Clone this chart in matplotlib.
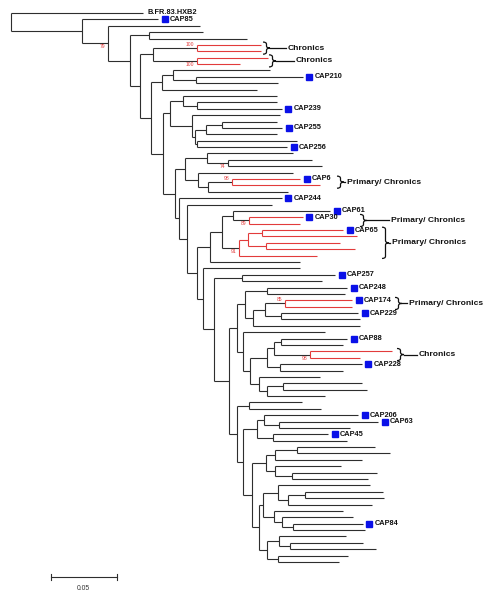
import matplotlib
matplotlib.use('Agg')
import matplotlib.pyplot as plt
from matplotlib.path import Path
from matplotlib.patches import PathPatch

plt.rcParams['font.family'] = ['Liberation Sans', 'DejaVu Sans']

# tree data (newick pieces, branch lengths in substitutions/site)
a5 = "(((t69:0.0591,t70:0.0705):0.0167,t71:0.0659):0.0068,(t72:0.0500,(t73:0.0644,t74:0.0576):0.0129):0.0068)"
b = ("(((t75:0.0697,((t76:0.0591,t77:0.0598):0.0129,t78:0.0636):0.0076):0.0114,"
     "(t79:0.0523,(t80:0.0538,(CAP84:0.0530,t82:0.0545):0.0083):0.0061):0.0083):0.0030,"
     "((t83:0.0508,(t84:0.0553,t85:0.0652):0.0083):0.0091,(t86:0.0530,t87:0.0462):0.0083):0.0061)")
d = "((CAP206:0.0712,(CAP63:0.0750,t66:0.0538):0.0114):0.0053,(CAP45:0.0417,t68:0.0561):0.0121)"
q3 = ("((CAP248:0.0606,t45:0.0591):0.0167,(((CAP174:0.0508,t47:0.0508)85:0.0152,"
      "(CAP229:0.0583,t49:0.0598):0.0121):0.0091,t50:0.0811):0.0061)")
ff = ("((((CAP88:0.0500,t53:0.0470):0.0053,(t54:0.0621,t55:0.0379)98:0.0273):0.0053,"
      "(CAP228:0.0621,t57:0.0477):0.0098):0.0129,"
      "(t58:0.0462,((t59:0.0598,t60:0.0636):0.0121,t61:0.0439):0.0061):0.0068)")
y_cl = ("(((CAP61:0.0735,(CAP30:0.0409,t34:0.0386)89:0.0121):0.0083,"
        "(((CAP65:0.0614,t36:0.0720):0.0106,(t37:0.0561,t38:0.0674):0.0136):0.0068,t39:0.0591)91:0.0129):0.0091,"
        "t40:0.0682)")
p = ("((t23:0.0652,(t24:0.0636,t25:0.0712)74:0.0159):0.0167,"
     "(t26:0.0720,((CAP6:0.0515,t28:0.0667)98:0.0182,t29:0.0606):0.0076):0.0098)")
f = ("((t14:0.0712,(t15:0.0606,CAP239:0.0644):0.0106):0.0098,"
     "(t17:0.0667,(((t18:0.0417,CAP255:0.0455):0.0121,t20:0.0538):0.0083,"
     "(t21:0.0758,CAP256:0.0682):0.0015):0.0023):0.0167)")
dd = "((t10:0.0735,(CAP210:0.0811,t12:0.0621):0.0174):0.0083,t13:0.0720)"
chron = "((t06:0.0485,t07:0.0485)100:0.0333,(t08:0.0538,t09:0.0326)100:0.0333)"

a6 = f"({a5}:0.0106,{b}:0.0053)"
c = f"({d}:0.0106,{a6}:0.0068)"
h = f"((t62:0.0402,t63:0.0545):0.0091,{c}:0.0045)"
cc = f"({q3}:0.0061,(t51:0.0621,{ff}:0.0053):0.0045)"
aa = f"((CAP257:0.0705,t43:0.0606):0.0212,({cc}:0.0061,{h}:0.0061):0.0114)"
x_cl = f"({y_cl}:0.0098,(t41:0.0735,{aa}:0.0083):0.0045)"
w = f"(CAP244:0.0780,(t31:0.0644,{x_cl}:0.0076):0.0061)"
e = f"({f}:0.0053,({p}:0.0076,{w}:0.0030):0.0091)"
n5 = f"({chron}:0.0098,({dd}:0.0083,{e}:0.0091):0.0083)"
n2 = f"(t03:0.0697,((t04:0.0409,t05:0.0742):0.0144,{n5}:0.0076):0.0167)79"
tree_str = f"(B.FR.83.HXB2:0.1000,(CAP85:0.0576,{n2}:0.0197):0.0538);"

# highlighted (red) clades, each one bracketed with a label
red_groups = [['t06', 't07'], ['t08', 't09'], ['CAP6', 't28'], ['CAP30', 't34'],
              ['CAP65', 't36', 't37', 't38', 't39'], ['CAP174', 't47'], ['t54', 't55']]
group_labels = ['Chronics', 'Chronics', 'Primary/ Chronics', 'Primary/ Chronics',
                'Primary/ Chronics', 'Primary/ Chronics', 'Chronics']

scale_len = 0.05

# layout (pixels) for braces: brace left, text left
brace_px = [(263, 288), (269, 296), (337, 347), (360, 391), (382, 392), (395, 409), (397, 419)]
boot_side = [1, -1, 1, 1, -1, 1, 1, -1, 1]

DARK = '#2e2e2e'
RED = '#e23b3b'
BLUE = '#0a10e8'
LW = 0.8
PX = 1 / 1320.0     # data units per pixel in x
PY = 1 / 6.384      # leaf rows per pixel in y


def parse(s):
    pos = 0

    def node():
        nonlocal pos
        kids = []
        if s[pos] == '(':
            pos += 1
            kids.append(node())
            while s[pos] == ',':
                pos += 1
                kids.append(node())
            pos += 1
        start = pos
        while s[pos] not in ':,();':
            pos += 1
        name = s[start:pos]
        length = 0.0
        if s[pos] == ':':
            pos += 1
            start = pos
            while s[pos] not in ',();':
                pos += 1
            length = float(s[start:pos])
        return {'name': name, 'len': length, 'kids': kids}
    return node()


leaves = []


def layout(n, x0):
    n['x'] = x0 + n['len']
    if n['kids']:
        for k in n['kids']:
            layout(k, n['x'])
        n['y'] = (n['kids'][0]['y'] + n['kids'][-1]['y']) / 2
        n['tips'] = sum((k['tips'] for k in n['kids']), [])
    else:
        n['y'] = len(leaves)
        leaves.append(n)
        n['tips'] = [n['name']]
    n['red'] = any(set(n['tips']) <= set(g) for g in red_groups)


root = parse(tree_str)
layout(root, 0.0)
tip = {l['name']: l for l in leaves}

fig = plt.figure(figsize=(4.92, 6.0), dpi=100)
ax = fig.add_axes([0, 0, 1, 1])
ax.set_xlim(-11 * PX, 481 * PX)
ax.set_ylim(587 * PY, -13 * PY)
ax.axis('off')

boot_i = [0]


def draw(n):
    if n['kids']:
        if n['name']:
            side = boot_side[boot_i[0]]
            boot_i[0] += 1
            ax.text(n['x'] - 3 * PX, n['y'] + side * 3.5 * PY, n['name'], color=RED,
                    fontsize=3.6, ha='right', va='center')
        ax.plot([n['x'], n['x']], [n['kids'][0]['y'], n['kids'][-1]['y']],
                color=RED if n['red'] else DARK, lw=LW, solid_capstyle='butt')
        for k in n['kids']:
            col = RED if (k['red'] and n['red']) else DARK
            ax.plot([n['x'], k['x']], [k['y'], k['y']], color=col, lw=LW, solid_capstyle='butt')
            draw(k)


draw(root)

# tip labels
for l in leaves:
    name = l['name']
    if name.startswith('CAP'):
        ax.plot(l['x'] + 6.5 * PX, l['y'], 's', color=BLUE, ms=4.8, mec=BLUE)
        ax.text(l['x'] + 11.5 * PX, l['y'], name, fontsize=5.3, fontweight='bold',
                ha='left', va='center', color='#111111')
    elif not (name[0] == 't' and name[1:].isdigit()):
        ax.text(l['x'] + 4 * PX, l['y'], name, fontsize=5.3, fontweight='bold',
                ha='left', va='center', color='#111111')

# braces
for grp, lab, (bpx, tpx) in zip(red_groups, group_labels, brace_px):
    ys = [tip[t]['y'] for t in grp]
    yt, yb = min(ys) - 0.45, max(ys) + 0.45
    ym = (yt + yb) / 2
    x0 = (bpx - 11) * PX
    bw = 7 * PX
    r = 0.35
    verts = [(x0, yt), (x0 + bw / 2, yt), (x0 + bw / 2, yt + r), (x0 + bw / 2, ym - r),
             (x0 + bw / 2, ym), (x0 + bw, ym), (x0 + bw / 2, ym), (x0 + bw / 2, ym + r),
             (x0 + bw / 2, yb - r), (x0 + bw / 2, yb), (x0, yb)]
    codes = [Path.MOVETO, Path.CURVE3, Path.CURVE3, Path.LINETO, Path.CURVE3, Path.CURVE3,
             Path.CURVE3, Path.CURVE3, Path.LINETO, Path.CURVE3, Path.CURVE3]
    ax.add_patch(PathPatch(Path(verts, codes), fc='none', ec='#111111', lw=0.9))
    tx = (tpx - 11) * PX
    ax.plot([x0 + bw, tx - 2 * PX], [ym, ym], color='#111111', lw=0.9)
    ax.text(tx, ym, lab, fontsize=6.1, fontweight='bold', ha='left', va='center', color='#111111')

# scale bar
sy = (577 - 13) * PY
sx0 = 0.03
ax.plot([sx0, sx0 + scale_len], [sy, sy], color=DARK, lw=0.8)
for xx in (sx0, sx0 + scale_len):
    ax.plot([xx, xx], [sy - 0.45, sy + 0.45], color=DARK, lw=0.8)
ax.text(sx0 + scale_len / 2, sy + 11 * PY, '0.05', fontsize=4.9, ha='center', va='center', color='#333333')

fig.savefig('out.png', dpi=100)
